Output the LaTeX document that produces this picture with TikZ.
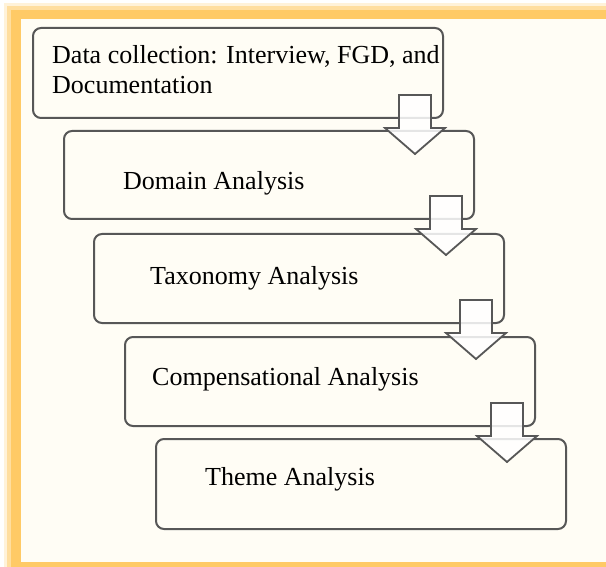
\documentclass[tikz,border=0pt]{standalone}
\usepackage{fontspec}
\setmainfont{Liberation Serif}
\usetikzlibrary{calc}

\definecolor{frameorange}{HTML}{FFCA66}
\definecolor{paper}{HTML}{FFFDF5}
\definecolor{boxline}{HTML}{575757}

\tikzset{
  stagebox/.style={draw=boxline, line width=2pt, rounded corners=8pt, fill=paper,
    minimum width=410pt, minimum height=89pt, anchor=north west, inner sep=0pt},
  stagetext/.style={font=\fontsize{26}{30}\selectfont, inner sep=0pt, align=left},
  blockarrow/.style={draw=boxline, line width=1.8pt, fill=white, fill opacity=0.85, line join=miter}
}

\begin{document}
\begin{tikzpicture}[x=1pt, y=-1pt]
      \useasboundingbox (0,0) rectangle (606,567);
      \clip (0,0) rectangle (606,567);

      % frame
      \fill[frameorange, opacity=0.25] (4,3) rectangle (620,580);
      \fill[frameorange, opacity=0.5] (7,6) rectangle (620,580);
      \fill[frameorange] (11,10) rectangle (620,580);
      \fill[paper] (21,19) rectangle (620,562);

      % stages
      \node[stagebox, minimum height=90pt] (collect) at (32,27) {};
      \node[stagebox, minimum height=88pt] (domain) at (63,130) {};
      \node[stagebox] (taxonomy) at (93,233) {};
      \node[stagebox] (compens) at (124,336) {};
      \node[stagebox, minimum height=90pt] (theme) at (155,438) {};

      \node[stagetext, anchor=north west] (collecttext) at (52,45) {Data collection: Interview, FGD, and\\Documentation};
      \node[stagetext, anchor=base west] (domaintext) at (123,190) {Domain Analysis};
      \node[stagetext, anchor=base west] (taxonomytext) at (150,285) {Taxonomy Analysis};
      \node[stagetext, anchor=base west] (compenstext) at (152,385) {Compensational Analysis};
      \node[stagetext, anchor=base west] (themetext) at (205,485) {Theme Analysis};

      % arrows between stages
      \foreach \s in {collect, domain, taxonomy, compens}
        \draw[blockarrow] ($(\s.south east)+(-45,-24)$) -- ++(0,33) -- ++(-14,0) -- ++(30,26)
          -- ++(30,-26) -- ++(-14,0) -- ++(0,-33) -- cycle;
    \end{tikzpicture}
\end{document}
